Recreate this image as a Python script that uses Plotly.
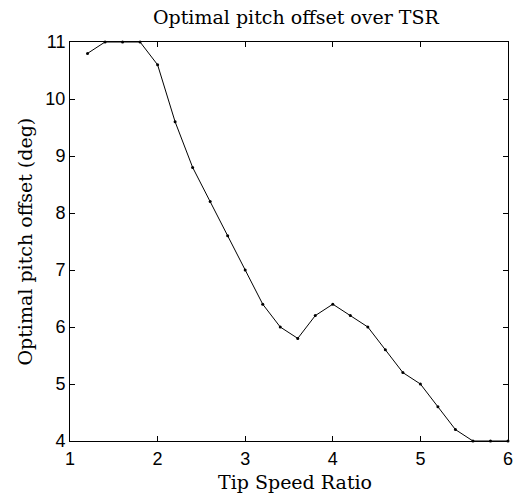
import plotly.graph_objects as go

tsr = [1.2, 1.4, 1.6, 1.8, 2.0, 2.2, 2.4, 2.6, 2.8, 3.0, 3.2, 3.4, 3.6, 3.8,
       4.0, 4.2, 4.4, 4.6, 4.8, 5.0, 5.2, 5.4, 5.6, 5.8, 6.0]
pitch = [10.8, 11.0, 11.0, 11.0, 10.6, 9.6, 8.8, 8.2, 7.6, 7.0, 6.4, 6.0, 5.8, 6.2,
         6.4, 6.2, 6.0, 5.6, 5.2, 5.0, 4.6, 4.2, 4.0, 4.0, 4.0]
xticks = [1, 2, 3, 4, 5, 6]
yticks = [4, 5, 6, 7, 8, 9, 10, 11]

serif = dict(family="DejaVu Serif, serif", size=19, color="black")

fig = go.Figure()
fig.add_trace(go.Scatter(x=tsr, y=pitch, mode="lines+markers",
                         line=dict(color="black", width=1),
                         marker=dict(color="black", size=3),
                         cliponaxis=False, showlegend=False))

axis_common = dict(showgrid=False, zeroline=False, showline=True, linecolor="black",
                   linewidth=1, mirror="ticks", ticks="inside", ticklen=5,
                   tickcolor="black",
                   tickfont=dict(family="Liberation Sans, Arial", size=18, color="black"))
fig.update_xaxes(range=[1, 6], tickvals=xticks, ticklabelstandoff=1, **axis_common)
fig.update_yaxes(range=[4, 11], tickvals=yticks, ticklabelstandoff=0, **axis_common)
fig.update_layout(
    width=521, height=494, margin=dict(l=70, r=8, t=42, b=53),
    paper_bgcolor="white", plot_bgcolor="white",
    annotations=[
        dict(text="Optimal pitch offset over TSR", xref="paper", yref="paper",
             x=0.5, y=1, xanchor="center", yanchor="middle", xshift=7, yshift=25,
             showarrow=False, font=serif),
        dict(text="Tip Speed Ratio", xref="paper", yref="paper",
             x=0.5, y=0, xanchor="center", yanchor="middle", xshift=6, yshift=-41,
             showarrow=False, font=serif),
        dict(text="Optimal pitch offset (deg)", xref="paper", yref="paper",
             x=0, y=0.5, xanchor="center", yanchor="middle", xshift=-46, yshift=0,
             textangle=-90, showarrow=False, font=serif),
    ])
fig.write_html("out.html")
